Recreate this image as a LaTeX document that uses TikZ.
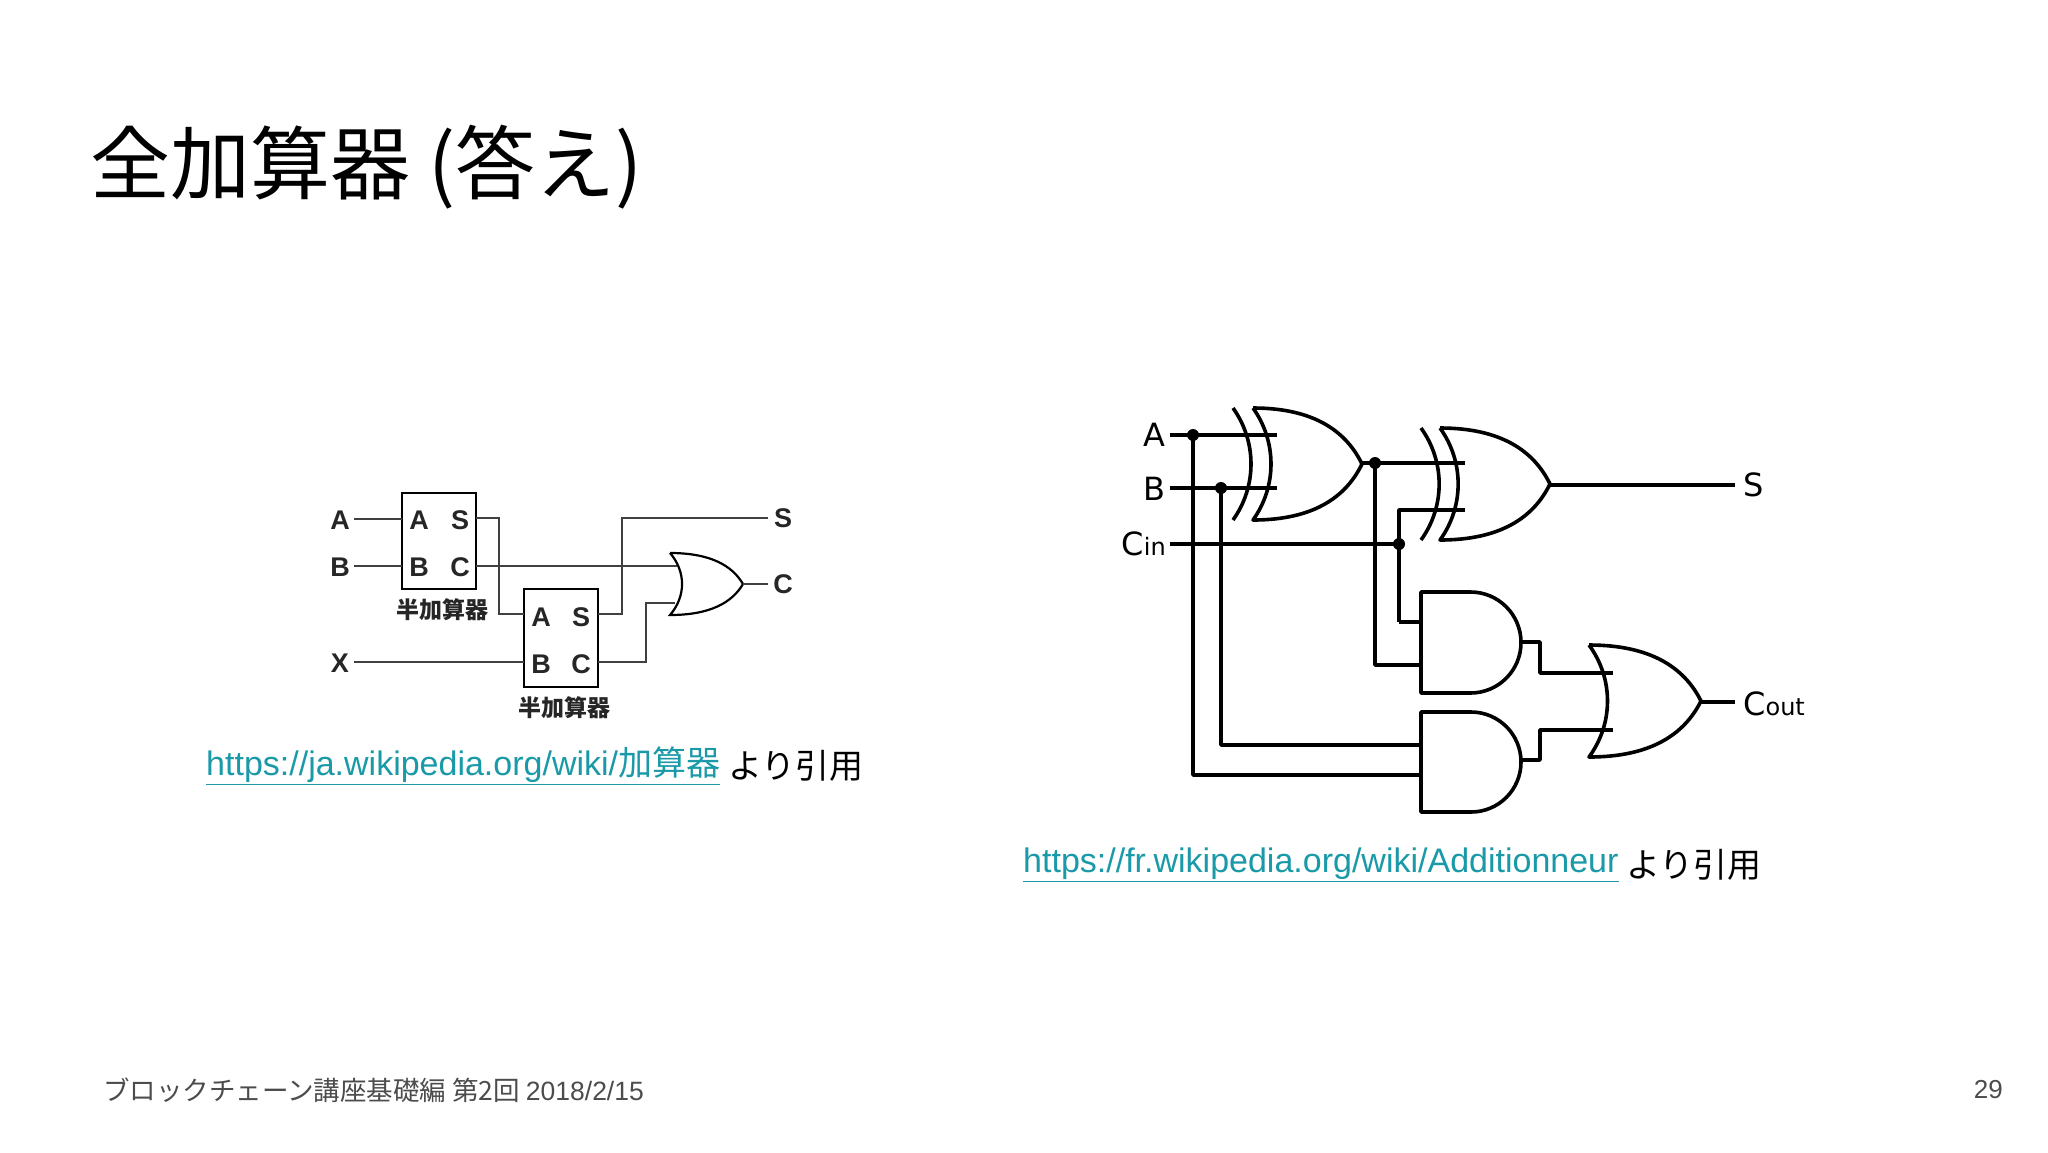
\documentclass[tikz,border=0pt]{standalone}
\usepackage{fontspec}
\setmainfont{Liberation Sans}
\newfontfamily\jp{Noto Sans CJK JP}
\newfontfamily\dv{DejaVu Sans}
\definecolor{linkc}{HTML}{1A9AA8}
\newcommand{\orshape}[4]{% bx, top, bottom, tip
 ({#1},{#2}) .. controls ({#1+0.55*(#4-#1)},{#2}) and ({#1+0.85*(#4-#1)},{#2+0.2*(#3-#2)}) .. ({#4},{(#2+#3)/2})
 .. controls ({#1+0.85*(#4-#1)},{#3-0.2*(#3-#2)}) and ({#1+0.55*(#4-#1)},{#3}) .. ({#1},{#3})
 .. controls ({#1+0.22*(#4-#1)},{#3-0.3*(#3-#2)}) and ({#1+0.22*(#4-#1)},{#2+0.3*(#3-#2)}) .. ({#1},{#2})}
\newcommand{\xorarc}[4]{% back x, top, bottom, width
 ({#1},{#2}) .. controls ({#1+0.22*#4},{#2+0.3*(#3-#2)}) and ({#1+0.22*#4},{#3-0.3*(#3-#2)}) .. ({#1},{#3})}
\newcommand{\andshape}[4]{% bx, top, bottom, right
 ({#1},{#2}) -- ({#4-(#3-#2)/2},{#2}) arc[start angle=-90,end angle=90,radius={(#3-#2)/2}] -- ({#1},{#3}) -- cycle}
\begin{document}
\begin{tikzpicture}[x=1pt,y=-1pt,
  lw/.style={line width=2.6pt,black!75},
  rw/.style={line width=3.6pt,black,line join=round},
  lbl/.style={font=\fontsize{27}{27}\selectfont\bfseries,text=black!85,inner sep=0pt},
  rlbl/.style={font=\dv\fontsize{32}{32}\selectfont,inner sep=0pt},
  dot/.style={circle,fill=black,inner sep=0pt,minimum size=12pt}]
\useasboundingbox (0,0) rectangle (2048,1152);
\fill[white] (0,0) rectangle (2048,1152);
\node[anchor=west,inner sep=0pt,font=\jp\fontsize{80}{80}\selectfont] (title) at (90,167) {全加算器 (答え)};
\node[anchor=west,inner sep=0pt,font=\jp\fontsize{26.5}{26.5}\selectfont,text=black!70] (foot) at (103,1090) {ブロックチェーン講座基礎編 第2回 {\fontspec{Liberation Sans}2018/2/15}};
\node[anchor=east,inner sep=0pt,font=\fontsize{26}{26}\selectfont,text=black!70] (page) at (2003,1090) {29};
% ---------- left circuit
\node[lbl] (la) at (340,520) {A};
\node[lbl] (lb) at (340,567) {B};
\node[lbl] (lx) at (340,663) {X};
\draw[line width=2.6pt] (402,493) rectangle (476,589);
\draw[line width=2.6pt] (524,589) rectangle (598,687);
\node[lbl] (h1a) at (419,520) {A}; \node[lbl] (h1s) at (460,520) {S};
\node[lbl] (h1b) at (419,567) {B}; \node[lbl] (h1c) at (460,567) {C};
\node[lbl] (h2a) at (541,617) {A}; \node[lbl] (h2s) at (581,617) {S};
\node[lbl] (h2b) at (541,664) {B}; \node[lbl] (h2c) at (581,664) {C};
\node[lbl,font=\jp\bfseries\fontsize{23}{23}\selectfont] (hn1) at (442,610) {半加算器};
\node[lbl,font=\jp\bfseries\fontsize{23}{23}\selectfont] (hn2) at (564,708) {半加算器};
\node[lbl] (ls) at (783,518) {S};
\node[lbl] (lc) at (783,584) {C};
\draw[lw] (354,519) -- (402,519);
\draw[lw] (354,566) -- (402,566);
\draw[lw] (354,662) -- (524,662);
\draw[lw] (476,518) -- (499,518) -- (499,614) -- (524,614);
\draw[lw] (598,614) -- (622,614) -- (622,518) -- (768,518);
\draw[lw] (476,566) -- (677,566);
\draw[lw] (598,662) -- (646,662) -- (646,603) -- (675,603);
\draw[line width=2.2pt,black] \orshape{670}{553}{615}{743};
\draw[lw] (743,584) -- (768,584);
\node[anchor=west,inner sep=0pt,font=\fontsize{34}{34}\selectfont,text=linkc] (l1) at (206,766) {\underline{https://ja.wikipedia.org/wiki/\jp 加算器}};
\node[anchor=west,inner sep=0pt,font=\jp\fontsize{34}{34}\selectfont] (l1b) at (l1.east) {\ より引用};
% ---------- right circuit
\node[rlbl,anchor=east] (ra) at (1166,435) {A};
\node[rlbl,anchor=east] (rb) at (1166,489) {B};
\node[rlbl,anchor=east] (rc) at (1166,544) {C\fontsize{24}{24}\selectfont in};
\draw[rw] \xorarc{1233}{408}{520}{109};
\draw[rw] \orshape{1253}{408}{520}{1362};
\draw[rw] \xorarc{1421}{428}{540}{110};
\draw[rw] \orshape{1440}{428}{540}{1550};
\draw[rw] \andshape{1421}{592}{693}{1521};
\draw[rw] \andshape{1421}{712}{812}{1521};
\draw[rw] \orshape{1589}{645}{757}{1701};
\draw[rw] (1170,435) -- (1277,435);
\draw[rw] (1170,488) -- (1277,488);
\draw[rw] (1170,544) -- (1399,544);
\draw[rw] (1193,435) -- (1193,775) -- (1421,775);
\draw[rw] (1221,488) -- (1221,745) -- (1421,745);
\draw[rw] (1362,463) -- (1465,463);
\draw[rw] (1375,463) -- (1375,665) -- (1421,665);
\draw[rw] (1399,622) -- (1399,510) -- (1465,510);
\draw[rw] (1399,622) -- (1421,622);
\draw[rw] (1550,485) -- (1735,485);
\draw[rw] (1521,642) -- (1540,642) -- (1540,673) -- (1613,673);
\draw[rw] (1521,760) -- (1540,760) -- (1540,730) -- (1613,730);
\draw[rw] (1701,702) -- (1735,702);
\node[dot] (d1) at (1193,435) {};
\node[dot] (d2) at (1221,488) {};
\node[dot] (d3) at (1375,463) {};
\node[dot] (d4) at (1399,544) {};
\node[rlbl,anchor=west] (rs) at (1743,485) {S};
\node[rlbl,anchor=west] (rco) at (1743,704) {C\fontsize{24}{24}\selectfont out};
\node[anchor=west,inner sep=0pt,font=\fontsize{34}{34}\selectfont,text=linkc] (l2) at (1023,865) {\underline{https://fr.wikipedia.org/wiki/Additionneur}};
\node[anchor=west,inner sep=0pt,font=\jp\fontsize{34}{34}\selectfont] (l2b) at (l2.east) {\ より引用};
\end{tikzpicture}
\end{document}
